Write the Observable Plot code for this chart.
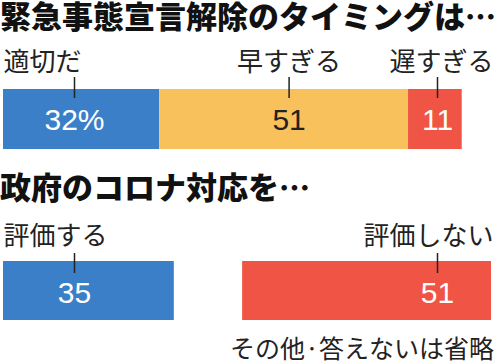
<!DOCTYPE html>
<html>
<head>
<meta charset="utf-8">
<script src="https://cdn.jsdelivr.net/npm/d3@7"></script>
<script src="https://cdn.jsdelivr.net/npm/@observablehq/plot@0.6"></script>
<style>
  html, body { margin: 0; padding: 0; background: #fff; }
  body { width: 500px; height: 364px; position: relative; overflow: hidden;
         font-family: "Noto Sans CJK JP", "Noto Sans", sans-serif; color: #222; }
  .title { position: absolute; left: 0; font-size: 31px; line-height: 30px;
           font-weight: 900; color: #111; white-space: nowrap; letter-spacing: 0; }
  #t1 { top: 0; }
  #t2 { top: 171px; }
  #c1 { position: absolute; left: 0; top: 36px; }
  #c2 { position: absolute; left: 0; top: 203px; }
  #cap { position: absolute; right: 6px; top: 335px; font-size: 25px; line-height: 25px;
         color: #222; white-space: nowrap; }
  svg { display: block; overflow: visible; }
</style>
</head>
<body>
<div class="title" id="t1">緊急事態宣言解除のタイミングは…</div>
<div id="c1"></div>
<div class="title" id="t2">政府のコロナ対応を…</div>
<div id="c2"></div>
<div id="cap">その他·答えないは省略</div>
<script>
// ---- data ----
const cats1 = ["適切だ", "早すぎる", "遅すぎる"];
const vals1 = [32, 51, 11];
const cats2 = ["評価する", "評価しない"];
const vals2 = [35, 51];
const pctMax = 100;

// ---- styles ----
const BLUE = "#3a7fc8", YELLOW = "#f8c15c", RED = "#ef5444";
const colors1 = [BLUE, YELLOW, RED];
const colors2 = [BLUE, RED];
const numColor = {[BLUE]: "#ffffff", [YELLOW]: "#222222", [RED]: "#ffffff"};

function anchorOf(i, n) { return i === 0 ? "start" : i === n - 1 ? "end" : "middle"; }

// stacked from 0 (chart 1)
function stackedRows(cats, vals, colors) {
  let acc = 0;
  return cats.map((c, i) => {
    const x1 = acc; acc += vals[i];
    return {cat: c, value: vals[i], x1, x2: acc, mid: (x1 + acc) / 2,
            anchor: anchorOf(i, cats.length), fill: colors[i],
            num: i === 0 ? vals[i] + "%" : String(vals[i])};
  });
}
// first from 0, last ending at 100 (chart 2)
function splitRows(cats, vals, colors) {
  return cats.map((c, i) => {
    const x1 = i === 0 ? 0 : pctMax - vals[i];
    const x2 = x1 + vals[i];
    return {cat: c, value: vals[i], x1, x2, mid: (x1 + x2) / 2,
            anchor: anchorOf(i, cats.length), fill: colors[i],
            num: String(vals[i])};
  });
}

const anchorX = {start: d => d.x1, middle: d => d.mid, end: () => pctMax};
const tickDx = {start: 71, middle: 5, end: -54};
const labelDx = {start: 0, middle: 5, end: 2};

function chart(rows, {height, marginTop, marginBottom, labelDy, tickTop, tickBottom, numDy}) {
  const marks = [Plot.barX(rows, {x1: "x1", x2: "x2", fill: "fill"})];
  for (const a of ["start", "middle", "end"]) {
    const sub = rows.filter(d => d.anchor === a);
    if (!sub.length) continue;
    marks.push(
      Plot.text(sub, {x: anchorX[a], text: "cat", frameAnchor: "top", dy: labelDy, dx: labelDx[a],
        textAnchor: a, lineAnchor: "middle", fontSize: 26, fill: "#222",
        fontFamily: "Noto Sans CJK JP"}),
      Plot.ruleX(sub, {x: anchorX[a], dx: tickDx[a], insetTop: tickTop, insetBottom: tickBottom,
        stroke: "#222", strokeWidth: 1.5}),
      Plot.text(sub, {x: anchorX[a], dx: tickDx[a], text: "num", frameAnchor: "middle", dy: numDy,
        lineAnchor: "middle", fontSize: 30, fill: d => numColor[d.fill],
        fontFamily: "Liberation Sans Narrow, Arial Narrow, Liberation Sans, sans-serif"})
    );
  }
  return Plot.plot({
    width: 500, height, marginLeft: 3, marginRight: 9, marginTop, marginBottom,
    x: {domain: [0, pctMax], axis: null},
    color: {type: "identity"},
    style: {background: "transparent", overflow: "visible"},
    marks
  });
}

document.getElementById("c1").append(chart(stackedRows(cats1, vals1, colors1), {
  height: 134, marginTop: 53, marginBottom: 21, labelDy: -27, tickTop: -12, tickBottom: 51, numDy: 1
}));
document.getElementById("c2").append(chart(splitRows(cats2, vals2, colors2), {
  height: 127, marginTop: 58, marginBottom: 10, labelDy: -25, tickTop: -8, tickBottom: 47, numDy: 2
}));
</script>
</body>
</html>
